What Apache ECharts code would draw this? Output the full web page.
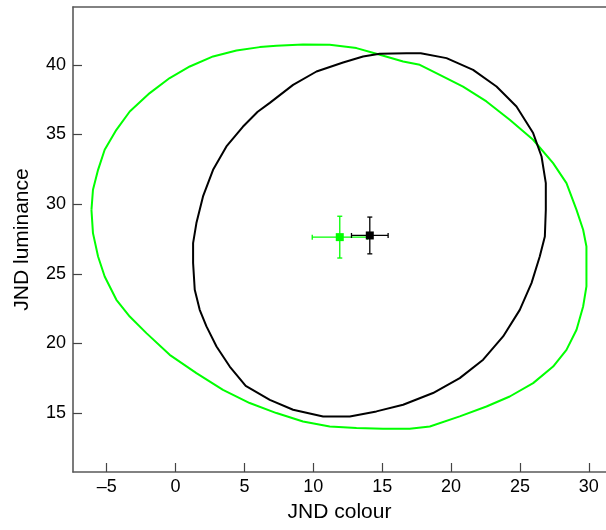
<!DOCTYPE html>
<html>
<head>
<meta charset="utf-8">
<title>JND colour / luminance</title>
<script src="https://cdn.jsdelivr.net/npm/echarts@6/dist/echarts.min.js"></script>
<style>
  html, body { margin: 0; padding: 0; background: #fff; }
  #main { width: 606px; height: 530px; }
</style>
</head>
<body>
<div id="main"></div>
<script>
// contour of the green group
var greenContour = [
  [-6.11, 29.59], [-6.00, 31.03], [-5.63, 32.46], [-5.15, 33.90], [-4.30, 35.33],
  [-3.33, 36.65], [-1.88, 37.97], [-0.43, 39.05], [1.03, 39.88], [2.72, 40.60],
  [4.42, 41.03], [6.11, 41.27], [7.32, 41.36], [9.25, 41.46], [11.19, 41.44],
  [13.13, 41.20], [14.58, 40.79], [16.52, 40.24], [17.73, 40.00], [19.18, 39.28],
  [20.87, 38.44], [22.57, 37.37], [24.26, 36.05], [25.96, 34.62], [27.41, 32.94],
  [28.38, 31.51], [29.11, 29.59], [29.59, 28.16], [29.83, 26.96], [29.83, 24.09],
  [29.59, 22.65], [29.11, 20.98], [28.38, 19.54], [27.41, 18.34], [25.96, 17.15],
  [24.26, 16.19], [22.57, 15.47], [20.63, 14.76], [18.46, 14.04], [17.00, 13.87],
  [15.06, 13.87], [13.13, 13.92], [11.19, 14.04], [9.25, 14.40], [7.32, 15.00],
  [5.38, 15.72], [3.44, 16.67], [1.51, 17.87], [-0.43, 19.18], [-2.12, 20.74],
  [-3.33, 21.93], [-4.30, 23.13], [-5.15, 24.80], [-5.63, 26.24], [-6.00, 27.92],
  [-6.11, 29.59]
];

// contour of the black group
var blackContour = [
  [1.27, 25.77], [1.27, 27.20], [1.51, 28.64], [1.99, 30.55], [2.72, 32.46],
  [3.69, 34.14], [4.88, 35.55], [5.96, 36.63], [6.84, 37.27], [8.53, 38.56],
  [10.23, 39.52], [12.16, 40.17], [13.61, 40.60], [14.82, 40.79], [16.76, 40.83],
  [17.80, 40.83], [19.67, 40.48], [21.60, 39.64], [23.30, 38.44], [24.75, 37.01],
  [25.96, 35.10], [26.57, 33.42], [26.88, 31.51], [26.88, 29.59], [26.81, 27.68],
  [26.44, 26.24], [25.84, 24.33], [24.99, 22.41], [23.78, 20.50], [22.33, 18.83],
  [20.63, 17.51], [18.69, 16.44], [16.52, 15.60], [14.58, 15.12], [12.65, 14.76],
  [10.71, 14.76], [8.53, 15.24], [6.84, 15.95], [5.09, 16.96], [3.93, 18.34],
  [2.97, 19.78], [2.24, 21.22], [1.75, 22.41], [1.39, 23.85], [1.27, 25.77]
];

// group means with their error bars
var groupColors = ['#00ff00', '#000000'];
var meanX = [11.92, 14.10];
var meanY = [27.63, 27.75];
var errX = [2.00, 1.33];
var errY = [1.50, 1.32];

function chart() {
  var myChart = echarts.init(document.getElementById('main'));

  var points = meanX.map(function (x, i) {
    return [x, meanY[i], errX[i], errY[i], i];
  });

  var axisLineStyle = { color: '#5a5a5a', width: 1.6 };
  var labelFont = {
    fontFamily: 'Liberation Sans, Arial, sans-serif',
    fontSize: 18,
    color: '#000'
  };
  var minusSign = function (v) { return String(v).replace('-', '\u2013'); };

  // error bars with small caps, then the square marker
  function renderMean(params, api) {
    var x = api.value(0), y = api.value(1);
    var ex = api.value(2), ey = api.value(3);
    var color = groupColors[api.value(4)];
    var c = api.coord([x, y]);
    var l = api.coord([x - ex, y]), r = api.coord([x + ex, y]);
    var t = api.coord([x, y + ey]), b = api.coord([x, y - ey]);
    var cap = 2.5;
    var st = { stroke: color, lineWidth: 1.3 };
    var seg = function (x1, y1, x2, y2) {
      return { type: 'line', shape: { x1: x1, y1: y1, x2: x2, y2: y2 }, style: st };
    };
    return {
      type: 'group',
      children: [
        seg(l[0], l[1], r[0], r[1]),
        seg(t[0], t[1], b[0], b[1]),
        seg(l[0], l[1] - cap, l[0], l[1] + cap),
        seg(r[0], r[1] - cap, r[0], r[1] + cap),
        seg(t[0] - cap, t[1], t[0] + cap, t[1]),
        seg(b[0] - cap, b[1], b[0] + cap, b[1]),
        { type: 'rect', shape: { x: c[0] - 4, y: c[1] - 4, width: 8, height: 8 }, style: { fill: color } }
      ]
    };
  }

  var option = {
    backgroundColor: '#ffffff',
    animation: false,
    grid: { left: 73, right: 0, top: 7, bottom: 58 },
    xAxis: [
      {
        type: 'value',
        min: -7.45,
        max: 31.25,
        splitNumber: 8,
        minInterval: 5,
        maxInterval: 5,
        name: 'JND colour',
        nameLocation: 'middle',
        nameGap: 30,
        nameTextStyle: { fontFamily: 'Liberation Sans, Arial, sans-serif', fontSize: 21, color: '#000' },
        axisLine: { show: true, onZero: false, lineStyle: axisLineStyle },
        axisTick: { show: true, inside: true, length: 9, lineStyle: { color: '#444', width: 1.2 } },
        axisLabel: Object.assign({ margin: 6, showMinLabel: false, showMaxLabel: false, formatter: minusSign }, labelFont),
        splitLine: { show: false }
      },
      {
        // top border line only
        type: 'value',
        position: 'top',
        min: -7.45,
        max: 31.25,
        axisLine: { show: true, onZero: false, lineStyle: axisLineStyle },
        axisTick: { show: false },
        axisLabel: { show: false },
        splitLine: { show: false }
      }
    ],
    yAxis: {
      type: 'value',
      min: 10.77,
      max: 44.15,
      splitNumber: 7,
      minInterval: 5,
      maxInterval: 5,
      name: 'JND luminance',
      nameLocation: 'middle',
      nameGap: 40,
      nameTextStyle: { fontFamily: 'Liberation Sans, Arial, sans-serif', fontSize: 21, color: '#000' },
      axisLine: { show: true, onZero: false, lineStyle: axisLineStyle },
      axisTick: { show: true, inside: true, length: 9, lineStyle: { color: '#444', width: 1.2 } },
      axisLabel: Object.assign({ margin: 7, showMinLabel: false, showMaxLabel: false, formatter: minusSign }, labelFont),
      splitLine: { show: false }
    },
    series: [
      {
        name: 'green contour',
        type: 'line',
        xAxisIndex: 0,
        data: greenContour,
        showSymbol: false,
        smooth: false,
        lineStyle: { color: groupColors[0], width: 2 }
      },
      {
        name: 'black contour',
        type: 'line',
        xAxisIndex: 0,
        data: blackContour,
        showSymbol: false,
        smooth: false,
        lineStyle: { color: groupColors[1], width: 2 }
      },
      {
        name: 'means',
        type: 'custom',
        xAxisIndex: 0,
        renderItem: renderMean,
        data: points,
        z: 5
      }
    ]
  };

  myChart.setOption(option);
}

window.onload = function () {
  chart();
};
</script>
</body>
</html>
